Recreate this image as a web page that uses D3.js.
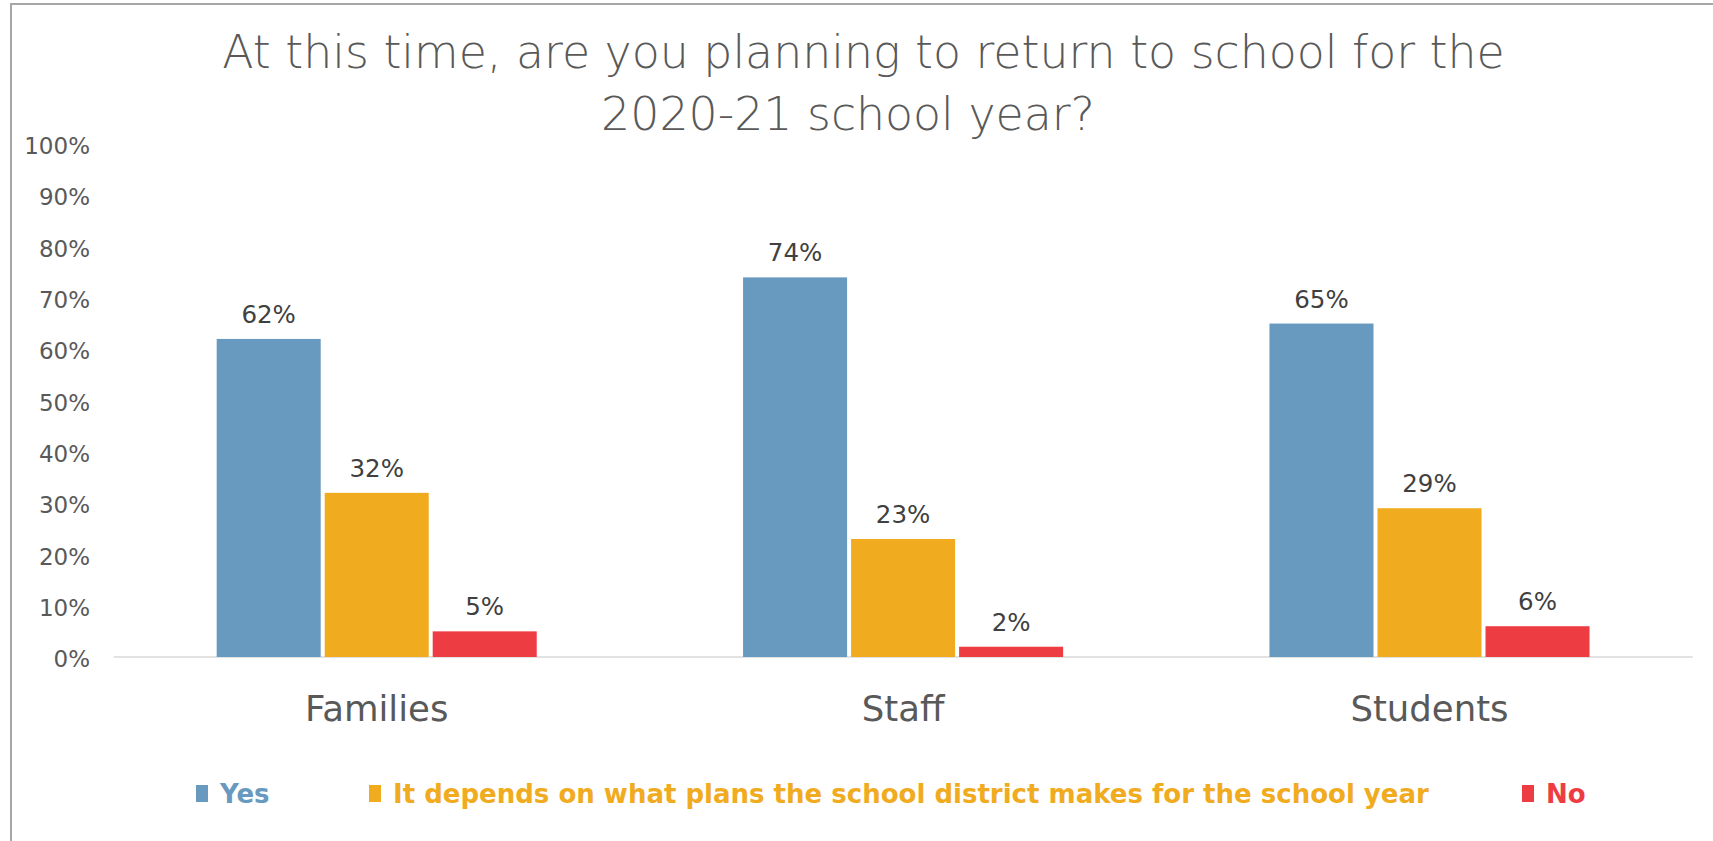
<!DOCTYPE html>
<html>
<head>
<meta charset="utf-8">
<script src="https://cdn.jsdelivr.net/npm/d3@7"></script>
<style>
  html, body { margin: 0; padding: 0; background: #ffffff; }
  svg { display: block; }
  text { font-family: "DejaVu Sans", sans-serif; }
</style>
</head>
<body>
<svg id="chart" width="1713" height="841"></svg>
<script>
// ---------------- data ----------------
const titleLines = ["At this time, are you planning to return to school for the", "2020-21 school year?"];
const categories = ["Families", "Staff", "Students"];
const seriesNames = ["Yes", "It depends on what plans the school district makes for the school year", "No"];
const yesValues = [0.62, 0.74, 0.65];
const dependsValues = [0.32, 0.23, 0.29];
const noValues = [0.05, 0.02, 0.06];
const yTicks = [0, 0.1, 0.2, 0.3, 0.4, 0.5, 0.6, 0.7, 0.8, 0.9, 1.0];
const seriesColors = ["#6899be", "#f0ab1f", "#ee3c43"];

const seriesValues = [yesValues, dependsValues, noValues];
const table = categories.map((c, i) => ({
  category: c,
  values: seriesNames.map((s, j) => ({ series: s, value: seriesValues[j][i], color: seriesColors[j] }))
}));

// ---------------- layout ----------------
const svg = d3.select("#chart");
const W = 1713, H = 841;
const plot = { left: 113.5, right: 1692.7, top: 144, bottom: 657 };

svg.append("rect").attr("width", W).attr("height", H).attr("fill", "#ffffff");

// outer frame (only top & left edges visible in the crop)
svg.append("rect")
  .attr("x", 11).attr("y", 4)
  .attr("width", W + 50).attr("height", H + 50)
  .attr("fill", "none").attr("stroke", "#a6a6a6").attr("stroke-width", 2);

function fitWidth(sel, target) {
  const fs = parseFloat(sel.attr("font-size"));
  const w = sel.node().getComputedTextLength();
  sel.attr("font-size", (fs * target / w).toFixed(2));
}

// title
const t1 = svg.append("text").attr("x", 863.5).attr("y", 68).attr("text-anchor", "middle")
  .attr("font-size", 38).attr("font-weight", 200).attr("fill", "#595959").text(titleLines[0]);
fitWidth(t1, 1283);
const t2 = svg.append("text").attr("x", 848).attr("y", 130).attr("text-anchor", "middle")
  .attr("font-size", t1.attr("font-size")).attr("font-weight", 200).attr("fill", "#595959").text(titleLines[1]);

// scales
const x0 = d3.scaleBand().domain(categories).range([plot.left, plot.right])
  .paddingInner(0.392).paddingOuter(0.196);
const x1 = d3.scaleBand().domain(seriesNames).range([0, x0.bandwidth()]).paddingInner(0.037);
const y = d3.scaleLinear().domain([0, 1]).range([plot.bottom, plot.top]);

// y axis labels
const yAxis = d3.axisLeft(y).tickValues(yTicks).tickFormat(d3.format(".0%")).tickSize(0).tickPadding(0);
const yg = svg.append("g").attr("transform", `translate(90,0)`).call(yAxis);
yg.select(".domain").remove();
yg.selectAll("text").attr("font-family", "DejaVu Sans").attr("font-size", 23).attr("fill", "#595959").attr("dy", "0.42em");

// baseline
svg.append("line")
  .attr("x1", plot.left).attr("x2", plot.right)
  .attr("y1", y(0)).attr("y2", y(0))
  .attr("stroke", "#d9d9d9").attr("stroke-width", 1.5);

// bars
const groups = svg.append("g").selectAll("g").data(table).join("g")
  .attr("transform", d => `translate(${x0(d.category)},0)`);

groups.selectAll("rect").data(d => d.values).join("rect")
  .attr("x", d => x1(d.series))
  .attr("width", x1.bandwidth())
  .attr("y", d => y(d.value))
  .attr("height", d => y(0) - y(d.value))
  .attr("fill", d => d.color);

groups.selectAll("text.val").data(d => d.values).join("text")
  .attr("class", "val")
  .attr("x", d => x1(d.series) + x1.bandwidth() / 2)
  .attr("y", d => y(d.value) - 16)
  .attr("text-anchor", "middle")
  .attr("font-size", 24.5)
  .attr("fill", "#404040")
  .text(d => d3.format(".0%")(d.value));

// x axis labels
const xAxis = d3.axisBottom(x0).tickSize(0).tickPadding(0);
const xg = svg.append("g").attr("transform", `translate(0,${plot.bottom})`).call(xAxis);
xg.select(".domain").remove();
xg.selectAll("text").attr("font-family", "DejaVu Sans").attr("font-size", 35.5).attr("fill", "#595959")
  .attr("dy", null).attr("y", 64);

// legend
const legendX = [196, 369, 1522];
const legendY = 803;
const lg = svg.append("g").selectAll("g").data(seriesNames).join("g")
  .attr("transform", (d, i) => `translate(${legendX[i]},${legendY})`);
lg.append("rect").attr("x", 0).attr("y", -18).attr("width", 12).attr("height", 17)
  .attr("fill", (d, i) => seriesColors[i]);
const lt = lg.append("text").attr("x", 24).attr("y", 0)
  .attr("font-size", 25).attr("font-weight", "bold")
  .attr("fill", (d, i) => seriesColors[i]).text(d => d);
// fit the long legend entry and share its size
const longT = lt.filter((d, i) => i === 1);
fitWidth(longT, 1036);
lt.attr("font-size", longT.attr("font-size"));
</script>
</body>
</html>
